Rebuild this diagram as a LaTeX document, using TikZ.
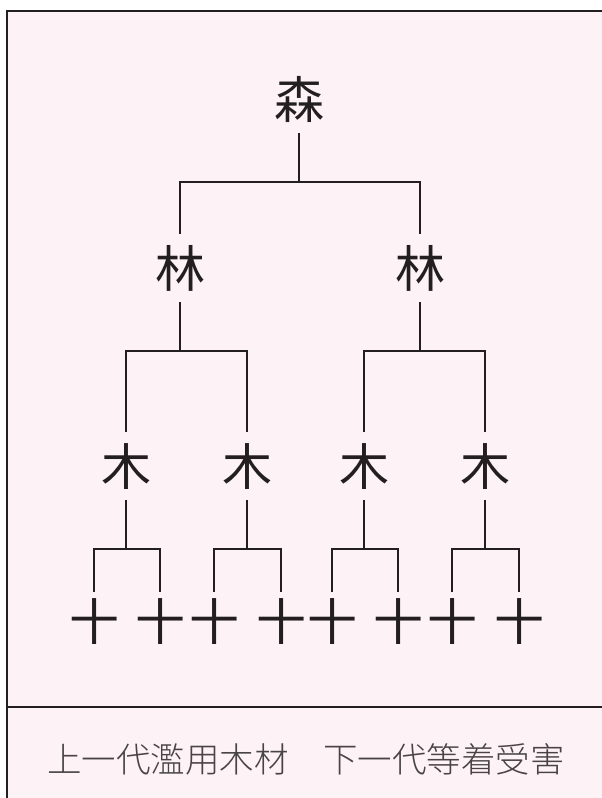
\documentclass[tikz,border=0pt]{standalone}
\usepackage{fontspec}
\newfontfamily\cjk{Noto Sans CJK SC}
\IfFontExistsTF{Noto Sans CJK SC Light}
  {\newfontfamily\cjkthin{Noto Sans CJK SC Light}}
  {\newfontfamily\cjkthin{Noto Sans CJK SC}}
\definecolor{bgpink}{RGB}{253,242,246}
\definecolor{ink}{RGB}{35,31,32}
\definecolor{inkgray}{RGB}{72,68,70}

\begin{document}
\begin{tikzpicture}[x=1pt,y=-1pt,
    zi/.style={inner sep=0pt,outer sep=0pt,minimum height=68pt,
      text height=44pt,text depth=6pt,text=ink,
      font=\cjk\fontsize{50}{50}\selectfont}]
  \useasboundingbox (0,0) rectangle (602,798);
  \fill[white] (0,0) rectangle (602,798);
  \filldraw[fill=bgpink,draw=ink,line width=2pt] (7,11) rectangle (620,820);
  \draw[ink,line width=2pt] (7,707) -- (620,707);

  \node[zi] (sen) at (299,99) {森};
  \node[zi] (lin1) at (180,268) {林};
  \node[zi] (lin2) at (420,268) {林};
  \foreach \x [count=\i] in {126,247,364,485}
    \node[zi] (mu\i) at (\x,466) {木};
  \foreach \x [count=\i] in {94,160,214,281,332,398,452,519}
    \node[zi,minimum height=58pt] (shi\i) at (\x,621) {十};

  \foreach \p/\a/\b in {sen/lin1/lin2,lin1/mu1/mu2,lin2/mu3/mu4,
      mu1/shi1/shi2,mu2/shi3/shi4,mu3/shi5/shi6,mu4/shi7/shi8} {
    \draw[ink,line width=1.5pt] (\p.south) -- ++(0,49) coordinate (j);
    \draw[ink,line width=1.5pt] (\a.north) |- (j) -| (\b.north);
  }

  \node[text=inkgray,font=\cjkthin\fontsize{34.5}{34.5}\selectfont] (caption) at (306,759)
    {上一代濫用木材　下一代等着受害};
\end{tikzpicture}
\end{document}
